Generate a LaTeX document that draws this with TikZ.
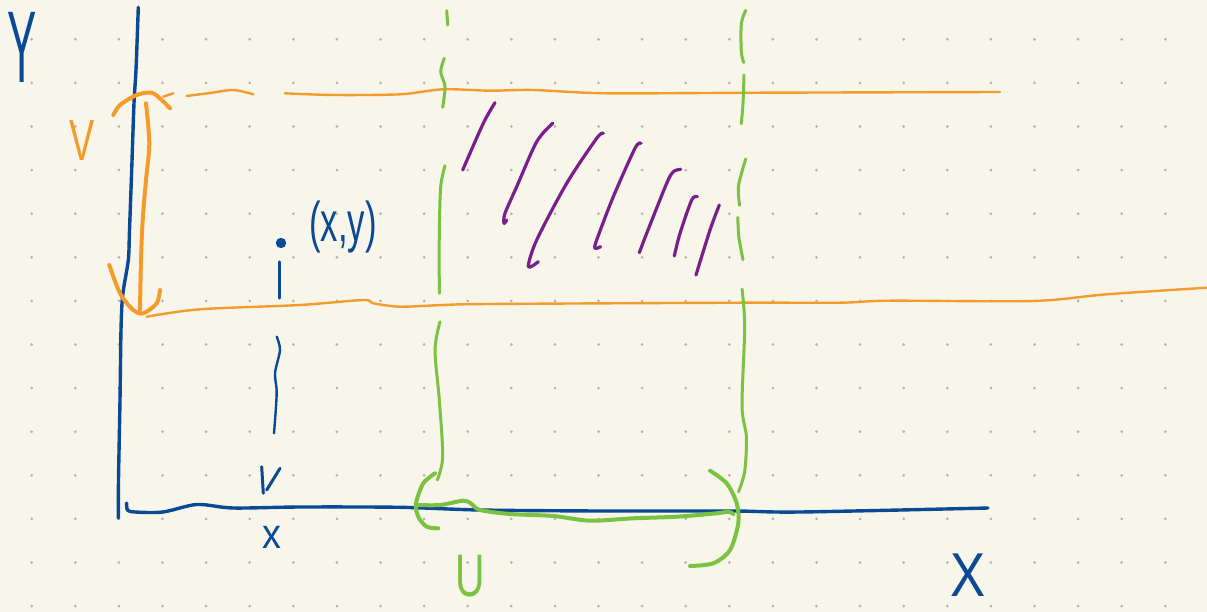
\documentclass[tikz,border=0pt]{standalone}
\usepackage{fontspec}
\usepackage{graphicx}
\setmainfont{Liberation Sans}
\definecolor{paper}{HTML}{F8F5EA}
\definecolor{griddot}{HTML}{B5B3AD}
\definecolor{inkblue}{HTML}{0A4A94}
\definecolor{inkorange}{HTML}{F39C2B}
\definecolor{inkgreen}{HTML}{7CC242}
\definecolor{inkpurple}{HTML}{7A1E8C}
\tikzset{
  ink/.style={line cap=round, line join=round},
  axisline/.style={ink, inkblue, line width=3.4pt},
  bandline/.style={ink, inkorange, line width=2.4pt},
  brace/.style={ink, line width=4pt},
  guide/.style={ink, inkgreen, line width=3pt},
  hatch/.style={ink, inkpurple, line width=3.2pt},
  label/.style={inner sep=0pt}
}
\begin{document}
\begin{tikzpicture}[x=1pt, y=-1pt]
  \useasboundingbox (0,0) rectangle (1207,612);
  \fill[paper] (0,0) rectangle (1207,612);
  \foreach \i in {0,...,26}
    \foreach \j in {0,...,13}
      \fill[griddot] (31.7+43.6*\i, 39.3+43.6*\j) circle (1.5);

  \draw[bandline] plot[smooth] coordinates {(163.3,96.7) (173.3,93.3)};
  \draw[bandline] plot[smooth] coordinates {(186.7,96) (210,93) (233.3,90) (253.3,94.3)};
  \draw[bandline] plot[smooth] coordinates {(285,93.3) (333,95) (400,94.3) (443,89.3) (490,90.7) (533,90) (606.7,93.3) (760,92.7) (1000,92)};
  \draw[bandline] plot[smooth] coordinates {(146.7,316.7) (200,309.3) (300,305) (363.3,300) (373.3,303.3) (400,306.7) (443,305) (490,304) (740,302.7) (840,302.7) (890,300.7) (1033,301) (1106.7,294.3) (1207,287.7)};

  \draw[guide] plot[smooth] coordinates {(446.7,10.7) (447.7,25)};
  \draw[guide] plot[smooth] coordinates {(444.3,58.3) (440.7,71.7) (445,86.7) (442.7,107.3)};
  \draw[guide] plot[smooth] coordinates {(445,165.7) (440.7,186.7) (439.3,233.3) (439.3,293.3)};
  \draw[guide] plot[smooth] coordinates {(440,321.7) (435,350) (439.3,400) (442.7,456.7) (437.3,480)};
  \draw[guide] plot[smooth] coordinates {(745.7,10.3) (741.3,24) (741.3,51.6) (743.7,62.6)};
  \draw[guide] plot[smooth] coordinates {(744,75) (743,103.2) (741.3,123.8)};
  \draw[guide] plot[smooth] coordinates {(745.7,159) (738.5,185.8) (739.6,205.4)};
  \draw[guide] plot[smooth] coordinates {(737.8,217.4) (738.9,237.4) (743,259.7)};
  \draw[guide] plot[smooth] coordinates {(742,289) (744.7,326.8) (742,405.9) (746.4,436.9) (744.7,471.3) (738.5,491.9)};

  \draw[axisline] plot[smooth] coordinates {(138.3,7.3) (136,70) (134,103) (131.7,170) (129.5,230) (128.3,260) (122.7,295) (121,330) (120,400) (118.5,480) (118.3,518)};
  \draw[axisline] plot[smooth] coordinates {(126.7,503) (127.5,510) (135,512) (163,512) (197,504.5) (233,508) (300,507) (400,507.3) (480,510) (600,511) (733,511) (800,512) (988,508)};

  \draw[brace, inkorange] plot[smooth] coordinates {(113.3,115) (120,105) (136.7,95) (151.7,92.7) (161.7,100) (170,108.3)};
  \draw[brace, inkorange] plot[smooth] coordinates {(146,103.3) (149.3,143.3) (146,180) (142.7,220) (141,260) (140,310)};
  \draw[brace, inkorange] plot[smooth] coordinates {(109.3,265) (120,293.3) (133.3,310) (143.3,313.3) (156.7,303.3) (160,290)};

  \draw[brace, inkgreen] plot[smooth] coordinates {(435,473.3) (423.3,483.3) (416,503.3) (418.3,516.7) (426.7,526.7) (438.3,528.3)};
  \draw[brace, inkgreen] plot[smooth] coordinates {(416,505) (440,505) (463.3,500.7) (471.7,504) (480,510) (510,514) (553.3,516) (590,520.7) (633.3,518.3) (676.7,516.7) (716.7,513.3) (728.3,511.7) (733.3,514)};
  \draw[brace, inkgreen] plot[smooth] coordinates {(710,470.7) (726.7,483.3) (736.7,503.3) (738.3,523.3) (730,550) (713.3,563.3) (690,566)};

  \draw[hatch] plot[smooth] coordinates {(495,102.7) (483.3,123.3) (462.7,170)};
  \draw[hatch] plot[smooth] coordinates {(552.7,123.3) (536.7,141.7) (516.7,186.7) (505,213.3) (504,223.3) (506.7,220)};
  \draw[hatch] plot[smooth] coordinates {(603.3,133.3) (596.7,138.3) (566.7,183.3) (536.7,240) (528.3,266.7) (538.3,261.7)};
  \draw[hatch] plot[smooth] coordinates {(641,143.3) (635,148.3) (613.3,196.7) (596.7,240) (595,248.3) (600.7,246.7)};
  \draw[hatch] plot[smooth] coordinates {(680.7,169.3) (673.3,171.7) (666.7,183.3) (646.7,233.3) (639.3,252.7)};
  \draw[hatch] plot[smooth] coordinates {(697.3,196.7) (691.7,200) (680,233.3) (674.3,256)};
  \draw[hatch] plot[smooth] coordinates {(719.3,205) (710,230) (696,275)};

  \fill[inkblue] (281,243) circle (5.2);
  \draw[axisline, line width=2.6pt] (279.3,261.7) -- (279.3,298.3);
  \draw[axisline, line width=2.4pt] plot[smooth] coordinates {(276.7,336.7) (280,350) (275,373.3) (276.7,393.3) (274,433.3)};
  \draw[axisline, line width=3pt] (261.7,466.7) -- (263.3,493.3);
  \draw[axisline, line width=3pt] (280,468.3) -- (266.7,490);

  \node[label, inkblue, font=\fontsize{102}{102}\selectfont] (ylabel) at (22,47) {\scalebox{0.43}[1]{Y}};
  \node[label, inkblue, font=\fontsize{62}{62}\selectfont] (xlabel) at (968,575) {\scalebox{0.85}[1]{X}};
  \node[label, inkorange, font=\fontsize{58}{58}\selectfont] (vlabel) at (82,141) {\scalebox{0.65}[1]{V}};
  \node[label, inkgreen, font=\fontsize{60}{60}\selectfont] (ulabel) at (470,576) {\scalebox{0.68}[1]{U}};
  \node[label, inkblue, font=\fontsize{42}{42}\selectfont] (xval) at (272,537) {\scalebox{0.9}[1]{x}};
  \node[label, inkblue, font=\fontsize{56}{56}\selectfont] (point) at (343,227) {\scalebox{0.62}[1]{(x,y)}};
\end{tikzpicture}
\end{document}
